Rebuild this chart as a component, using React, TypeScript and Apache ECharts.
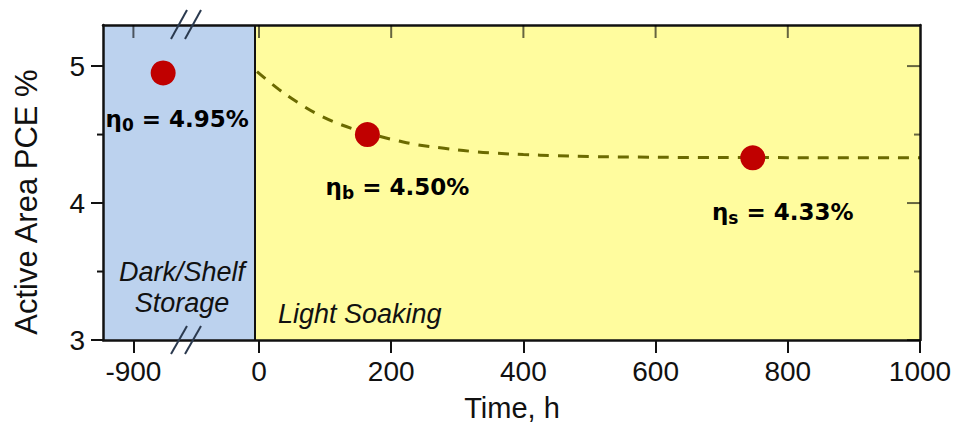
import React, { useEffect, useRef } from "react";
import * as echarts from "echarts";

// ---- data ----
// Dashed fit curve: time (h) and PCE (%)
const curveTime = [-3, 30, 60, 90, 120, 150, 180, 210, 240, 280, 320, 360, 400, 450, 500, 560, 650, 750, 850, 1000];
const curvePCE = [4.96, 4.83, 4.73, 4.645, 4.58, 4.53, 4.49, 4.455, 4.425, 4.4, 4.378, 4.364, 4.354, 4.346, 4.34, 4.336, 4.333, 4.332, 4.331, 4.33];

// Measured points
const pointTime = [-855, 164, 747];
const pointPCE = [4.95, 4.5, 4.33];
const pointSub = ["0", "b", "s"];

// Axis / regions
const xTickTimes = [-900, 0, 200, 400, 600, 800, 1000];
const yMajor = [3, 4, 5];
const yMinor = [3.5, 4.5];
const storageEnd = -6; // boundary between dark storage and light soaking (h)
const regionLabels = ["Dark/Shelf", "Storage", "Light Soaking"];

// Broken axis: times before the break are shifted right by this amount
const BREAK_BEFORE = -100;
const BREAK_SHIFT = 710;
const toAxis = (t: number) => (t < BREAK_BEFORE ? t + BREAK_SHIFT : t);
const fromAxis = (v: number) => (v < BREAK_BEFORE ? v - BREAK_SHIFT : v);

const X_MIN = -236;
const X_MAX = 1000;
const Y_MIN = 3;
const Y_MAX = 5.3;

// ---- styles ----
const labelOffsets: [number, number][] = [
  [14, 46],
  [30, 52],
  [30, 54],
];
const BLUE = "#bcd2ee";
const YELLOW = "#fffc9e";
const TICK_IN = "rgba(0,0,0,0.6)";
const SANS = "'Liberation Sans', Arial, sans-serif";
const AXIS_Z = 10;

export default function App() {
  const ref = useRef<HTMLDivElement>(null);
  useEffect(() => {
    if (!ref.current) return;
    const chart = echarts.init(ref.current, undefined, { renderer: "svg" });
    const xTicks = xTickTimes.map(toAxis);
    const xTicksTop = xTicks.filter((v) => v < X_MAX);

    const labelRich = {
      e: { fontFamily: "'DejaVu Sans'", fontWeight: "bold", fontSize: 23, color: "#000", lineHeight: 27 },
      s: { fontFamily: "'DejaVu Sans'", fontWeight: "bold", fontSize: 17, color: "#000", lineHeight: 19, padding: [13, 0, 0, 0] },
    };

    chart.setOption({
      animation: false,
      backgroundColor: "#ffffff",
      grid: { left: 103, right: 36, top: 25, bottom: 87, containLabel: false },
      xAxis: [
        {
          type: "value",
          position: "bottom",
          z: AXIS_Z,
          min: X_MIN,
          max: X_MAX,
          splitLine: { show: false },
          axisLine: { show: true, onZero: false, lineStyle: { color: "#111", width: 2.5 } },
          axisTick: { show: true, inside: false, length: 13, customValues: xTicks, lineStyle: { color: "#111", width: 2 } },
          axisLabel: {
            customValues: xTicks,
            formatter: (v: number) => String(fromAxis(v)),
            fontFamily: SANS,
            fontSize: 28,
            color: "#111",
            margin: 17,
          },
        },
        {
          type: "value",
          position: "top",
          z: AXIS_Z,
          min: X_MIN,
          max: X_MAX,
          splitLine: { show: false },
          axisLine: { show: true, onZero: false, lineStyle: { color: "#111", width: 2.5 } },
          axisTick: { show: false },
          axisLabel: { show: false },
        },
      ],
      yAxis: [
        {
          type: "value",
          position: "left",
          z: AXIS_Z,
          min: Y_MIN,
          max: Y_MAX,
          splitLine: { show: false },
          axisLine: { show: true, onZero: false, lineStyle: { color: "#111", width: 2.5 } },
          axisTick: { show: true, inside: false, length: 12, customValues: yMajor, lineStyle: { color: "#111", width: 2 } },
          axisLabel: { customValues: yMajor, fontFamily: SANS, fontSize: 28, color: "#111", margin: 18 },
        },
        {
          type: "value",
          position: "right",
          z: AXIS_Z,
          min: Y_MIN,
          max: Y_MAX,
          splitLine: { show: false },
          axisLine: { show: true, onZero: false, lineStyle: { color: "#111", width: 2.5 } },
          axisTick: { show: false },
          axisLabel: { show: false },
        },
      ],
      series: [
        {
          type: "line",
          xAxisIndex: 0,
          yAxisIndex: 0,
          data: curveTime.map((t, i) => [toAxis(t), curvePCE[i]]),
          smooth: 0.4,
          showSymbol: false,
          symbol: "none",
          lineStyle: { color: "#6b6a00", width: 3, type: [11, 9] },
          z: 3,
          markArea: {
            silent: true,
            data: [
              [{ xAxis: X_MIN, itemStyle: { color: BLUE } }, { xAxis: storageEnd }],
              [{ xAxis: storageEnd, itemStyle: { color: YELLOW } }, { xAxis: X_MAX }],
            ],
          },
          markLine: {
            silent: true,
            symbol: "none",
            label: { show: false },
            lineStyle: { color: "#111", width: 2, type: "solid" },
            data: [{ xAxis: storageEnd }],
          },
        },
        {
          type: "scatter",
          xAxisIndex: 0,
          yAxisIndex: 0,
          symbolSize: 25,
          itemStyle: { color: "#c00000", opacity: 1 },
          z: 5,
          data: pointTime.map((t, i) => ({
            value: [toAxis(t), pointPCE[i]],
            label: {
              show: true,
              position: "inside",
              offset: labelOffsets[i],
              opacity: 1,
              formatter: `{e|η}{s|${pointSub[i]}}{e| = ${pointPCE[i].toFixed(2)}%}`,
              rich: labelRich,
            },
          })),
        },
      ],
    });

    // Ticks mirrored on top/right and minor ticks, positioned through the axes' scales
    const px = (v: number) => chart.convertToPixel({ xAxisIndex: 0 }, v) as number;
    const py = (v: number) => chart.convertToPixel({ yAxisIndex: 0 }, v) as number;
    const left = px(X_MIN);
    const right = px(X_MAX);
    const top = py(Y_MAX);

    const seg = (x1: number, y1: number, x2: number, y2: number, stroke: string, lineWidth = 2, z = 20) => ({
      type: "line",
      silent: true,
      z,
      shape: { x1, y1, x2, y2 },
      style: { stroke, lineWidth },
    });

    const tickGraphics: any[] = [];
    xTicksTop.forEach((v) => tickGraphics.push(seg(px(v), top, px(v), top + 13, TICK_IN)));
    yMajor.forEach((v) => tickGraphics.push(seg(right - 13, py(v), right, py(v), TICK_IN)));
    yMinor.forEach((v) => {
      tickGraphics.push(seg(right - 6, py(v), right, py(v), TICK_IN));
      tickGraphics.push(seg(left - 6, py(v), left, py(v), "#111"));
    });

    chart.setOption({
      graphic: [
        ...tickGraphics,
        seg(171, 39, 187, 10, "#2b3a4f", 2, 100),
        seg(185, 39, 201, 10, "#2b3a4f", 2, 100),
        seg(171, 354, 187, 326, "#2b3a4f", 2, 100),
        seg(185, 354, 201, 326, "#2b3a4f", 2, 100),
        {
          type: "text",
          x: 26,
          y: 202,
          rotation: Math.PI / 2,
          style: { text: "Active Area PCE %", fontFamily: SANS, fontSize: 31, fill: "#111", align: "center", verticalAlign: "middle" },
        },
        {
          type: "text",
          x: 512,
          y: 408,
          style: { text: "Time, h", fontFamily: SANS, fontSize: 29, fill: "#111", align: "center", verticalAlign: "middle" },
        },
        {
          type: "text",
          x: 182,
          y: 272,
          z: 50,
          style: { text: regionLabels[0], fontFamily: SANS, fontStyle: "italic", fontSize: 27, fill: "#111", align: "center", verticalAlign: "middle" },
        },
        {
          type: "text",
          x: 182,
          y: 303,
          z: 50,
          style: { text: regionLabels[1], fontFamily: SANS, fontStyle: "italic", fontSize: 27, fill: "#111", align: "center", verticalAlign: "middle" },
        },
        {
          type: "text",
          x: 278,
          y: 314,
          z: 50,
          style: { text: regionLabels[2], fontFamily: SANS, fontStyle: "italic", fontSize: 27, fill: "#111", align: "left", verticalAlign: "middle" },
        },
      ],
    });
    return () => chart.dispose();
  }, []);
  return <div ref={ref} style={{ width: 956, height: 427, position: "absolute", left: 0, top: 0 }} />;
}
